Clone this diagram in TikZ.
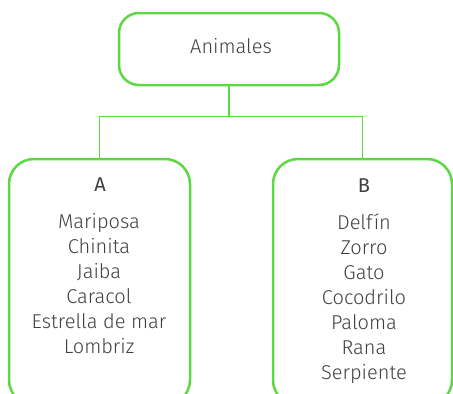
\documentclass[tikz,border=0pt]{standalone}
\usepackage{fontspec}
\setmainfont{Fira Sans Light}
\newfontfamily\regfont{Fira Sans}
\definecolor{grn}{HTML}{5DD843}
\definecolor{txt}{HTML}{404040}
\begin{document}
\begin{tikzpicture}[x=1pt,y=-1pt,
  box/.style={draw=grn, line width=2.5pt, fill=white, inner sep=0pt},
  conn/.style={draw=grn, line width=1.3pt},
  lbl/.style={text=txt, inner sep=0pt, anchor=base, font=\fontsize{20}{25}\selectfont},
  lst/.style={text=txt, inner sep=0pt, align=center, font=\fontsize{20}{25}\selectfont}]
\useasboundingbox (0,0) rectangle (453,394);
\clip (0,0) rectangle (453,394);
\node[box, minimum width=220pt, minimum height=72pt, rounded corners=20pt] (top) at (229,49) {};
\node[box, minimum width=181pt, minimum height=246pt, rounded corners=25pt] (A) at (99.5,282) {};
\node[box, minimum width=179pt, minimum height=246pt, rounded corners=25pt] (B) at (362.5,282) {};
\draw[conn] (top.south) -- ++(0,30) coordinate (j);
\draw[conn] (j) -| (A.north);
\draw[conn] (j) -| (B.north);
\node[lbl] (tt) at (231,53) {Animales};
\node[lbl, font=\regfont\fontsize{20}{25}\selectfont] (ta) at (100,191) {A};
\node[lbl, font=\regfont\fontsize{20}{25}\selectfont] (tb) at (364,192) {B};
\node[lst, anchor=base] (la) at (99,353) {Mariposa\\Chinita\\Jaiba\\Caracol\\Estrella de mar\\Lombriz};
\node[lst, anchor=base] (lb) at (364,379) {Delfín\\Zorro\\Gato\\Cocodrilo\\Paloma\\Rana\\Serpiente};
\end{tikzpicture}
\end{document}
